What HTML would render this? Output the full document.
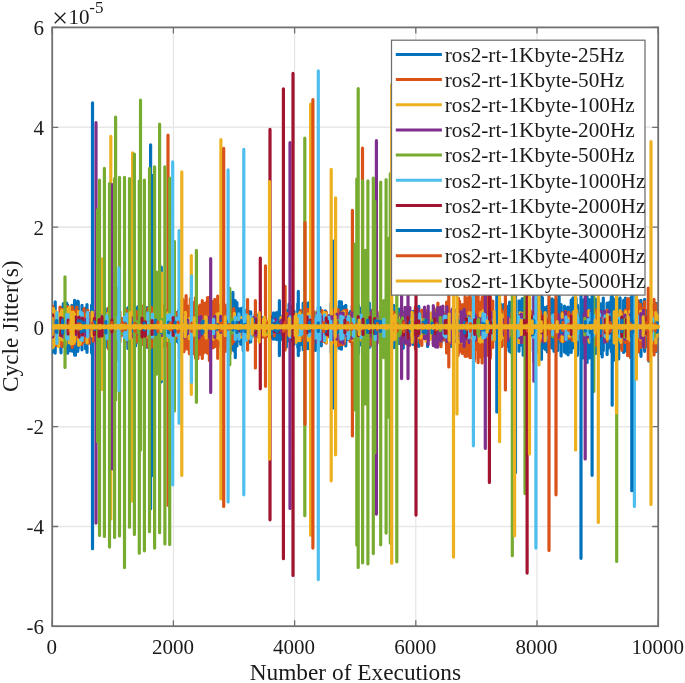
<!DOCTYPE html>
<html><head><meta charset="utf-8"><title>Cycle Jitter</title>
<style>
html,body{margin:0;padding:0;background:#fff}
body{width:685px;height:683px;overflow:hidden;position:relative;font-family:"Liberation Serif",serif}
text{font-family:"Liberation Serif",serif;fill:#1a1a1a}
.tk{font-size:21px}
.lg{font-size:21.25px}
.lb{font-size:23.35px}
</style></head><body>
<svg width="685" height="683" viewBox="0 0 685 683" style="position:absolute;left:0;top:0;will-change:transform">
<rect width="685" height="683" fill="#fff"/>
<path d="M173.4 27.4V626.3M294.6 27.4V626.3M415.8 27.4V626.3M537.0 27.4V626.3" stroke="#e3e3e3" stroke-width="1.1" fill="none"/>
<path d="M52.2 127.3H658.2M52.2 227.1H658.2M52.2 326.9H658.2M52.2 426.7H658.2M52.2 526.5H658.2" stroke="#e8e8e8" stroke-width="1.6" fill="none"/>
<path d="M52.2 626.3v-6.0M52.2 27.4v6.0M173.4 626.3v-6.0M173.4 27.4v6.0M294.6 626.3v-6.0M294.6 27.4v6.0M415.8 626.3v-6.0M415.8 27.4v6.0M537.0 626.3v-6.0M537.0 27.4v6.0M658.2 626.3v-6.0M658.2 27.4v6.0M52.2 27.4h6.0M658.2 27.4h-6.0M52.2 127.3h6.0M658.2 127.3h-6.0M52.2 227.1h6.0M658.2 227.1h-6.0M52.2 326.9h6.0M658.2 326.9h-6.0M52.2 426.7h6.0M658.2 426.7h-6.0M52.2 526.5h6.0M658.2 526.5h-6.0M52.2 626.3h6.0M658.2 626.3h-6.0" stroke="#707070" stroke-width="1.3" fill="none"/>
<rect x="52.2" y="27.4" width="606.0" height="598.8" fill="none" stroke="#707070" stroke-width="1.8"/>
<clipPath id="cp"><rect x="52.2" y="27.4" width="607.5" height="598.8"/></clipPath>
<g clip-path="url(#cp)" fill="none" stroke-width="3.2" stroke-linecap="round">
<path d="M92.5 102.8V548.7M150.6 144.9V508.8M152.1 175.4V475.4M161.3 267.0V381.8M232.9 292.4V350.1M235.3 300.7V357.6M279.4 300.7V355.6M298.3 291.4V355.6M333.4 241.2V407.9M52.7 311.9V341.9M54.2 306.0V343.7M55.2 301.9V353.1M60.8 307.3V349.3M62.2 312.2V345.0M63.3 303.7V346.1M64.2 310.3V341.9M66.5 308.6V352.1M67.7 305.0V353.2M69.1 311.9V347.1M70.1 313.9V350.7M72.3 308.0V351.2M74.6 300.4V355.1M75.5 302.8V355.2M76.8 302.5V347.7M77.8 301.1V351.3M82.0 305.3V349.8M85.6 308.0V348.7M91.5 309.7V343.8M93.8 314.6V339.4M99.6 304.8V350.3M100.5 301.5V353.3M102.1 312.5V338.3M103.3 308.4V342.4M104.3 315.0V352.1M105.3 308.7V347.6M114.3 309.1V343.3M115.6 313.9V336.7M117.6 309.2V336.5M124.7 308.5V342.5M127.9 307.8V348.4M135.6 307.9V345.8M136.8 312.7V339.5M138.1 306.6V341.9M146.1 313.0V338.8M147.3 307.6V347.3M150.7 310.0V345.9M153.8 315.6V339.5M160.4 313.1V345.7M161.5 316.2V345.3M162.6 307.7V346.3M163.6 307.8V342.9M168.9 308.9V342.7M170.2 311.6V339.5M175.0 313.0V341.8M176.7 312.7V341.2M177.5 316.3V334.0M178.6 310.7V343.0M180.7 317.5V335.1M184.0 312.4V343.0M185.7 313.0V340.7M187.5 313.4V344.3M191.7 315.8V340.8M195.5 317.7V334.8M196.4 311.0V344.1M199.0 310.4V346.5M200.6 309.4V343.7M202.6 316.5V338.6M203.5 313.6V340.7M205.4 308.3V343.6M206.4 318.4V333.7M208.1 309.1V347.7M210.3 317.0V336.0M212.0 307.2V343.6M212.9 317.1V335.8M215.1 313.6V337.9M216.3 315.0V337.6M217.7 312.9V339.7M218.5 317.7V345.9M219.7 305.4V338.1M221.4 306.0V342.6M224.1 311.2V348.2M226.6 310.7V339.9M229.6 313.1V339.0M233.7 310.5V342.8M234.8 310.6V352.0M236.9 302.6V345.9M238.5 308.7V340.7M239.3 315.2V335.9M240.7 308.7V344.2M243.2 307.1V350.7M244.3 309.9V336.0M248.7 311.3V342.4M250.7 311.8V342.0M255.1 314.9V336.7M256.7 314.8V337.0M259.1 318.2V331.0M262.1 317.6V337.0M263.4 319.2V335.3M270.3 316.2V338.2M273.5 312.9V339.2M276.5 312.5V339.6M279.1 310.6V339.0M281.0 316.5V339.4M286.3 310.4V347.1M288.0 313.3V340.8M289.1 304.1V339.3M291.1 306.3V341.2M292.9 317.3V335.4M294.0 311.1V344.3M297.8 303.7V347.6M299.1 309.9V350.7M300.7 311.5V344.4M302.0 311.9V342.0M303.2 303.2V349.7M305.6 303.2V345.9M306.5 308.9V348.4M307.8 303.3V348.7M309.2 302.7V342.1M310.6 309.5V341.9M315.3 312.0V350.4M317.0 312.4V338.6M318.3 307.0V350.3M320.0 307.5V342.4M321.3 313.6V345.8M325.4 310.9V342.3M331.2 303.0V352.7M335.7 306.2V351.1M339.3 301.6V348.3M341.4 301.9V349.2M344.5 306.4V338.5M345.8 305.3V346.0M348.2 313.5V339.2M350.4 311.5V340.8M352.3 305.7V345.5M353.5 305.1V348.5M356.2 311.2V347.9M357.4 310.1V344.7M358.5 305.0V353.0M359.9 311.8V341.6M361.3 308.1V344.8M363.9 313.5V343.0M365.0 315.3V343.9M369.3 303.0V347.4M374.6 316.4V336.6M376.0 317.5V338.1M377.0 313.0V342.8M380.7 316.2V339.5M381.8 304.9V351.6M385.0 316.7V337.6M386.3 305.2V352.6M388.7 307.3V342.1M391.8 308.4V343.1M393.6 305.3V347.7M395.5 314.3V346.7M399.2 309.1V343.4M402.5 314.3V336.9M403.3 312.5V348.1M411.3 316.2V338.5M413.1 311.3V344.5M416.2 308.6V338.1M417.5 311.9V340.0M418.8 306.4V346.3M427.6 313.8V346.5M436.1 310.7V346.6M440.9 312.9V343.6M443.1 311.9V340.1M446.4 315.8V344.3M447.6 315.1V339.0M450.1 317.9V341.1M451.3 314.1V346.4M452.2 311.5V343.9M453.1 308.0V344.0M458.9 309.0V347.4M469.0 313.3V337.3M473.6 305.2V343.6M475.4 316.8V345.5M480.2 306.9V343.5M481.2 308.1V345.5M484.7 312.5V339.8M491.6 315.0V340.7M494.0 312.7V340.3M497.8 312.1V341.7M499.4 310.9V349.3M500.3 303.8V338.5M501.3 306.3V346.6M503.5 304.6V344.5M505.9 310.4V350.7M507.7 306.5V346.5M508.7 305.9V339.2M509.6 302.2V351.4M511.2 311.8V352.6M514.1 310.4V346.5M519.0 300.8V351.2M522.1 298.9V345.5M523.2 298.5V355.2M524.6 309.6V343.5M527.3 309.7V344.2M529.7 298.1V351.0M534.0 295.8V361.6M535.3 301.5V348.5M537.1 298.8V341.7M538.4 295.3V352.6M539.8 312.2V344.7M541.5 296.2V359.3M542.3 304.7V346.3M544.6 307.7V342.9M549.9 308.9V343.3M554.0 303.9V351.2M556.2 299.9V350.5M559.1 296.1V341.8M560.8 311.4V342.6M566.2 307.8V353.2M568.7 308.3V341.6M573.1 298.8V340.2M576.1 298.4V350.4M577.4 305.1V355.3M581.2 306.4V349.7M583.2 299.9V358.0M584.1 307.0V355.2M587.1 296.4V362.4M589.5 299.6V358.0M592.3 303.2V354.9M593.7 300.2V342.8M594.8 310.0V341.0M595.6 299.2V353.6M598.6 300.7V349.1M602.2 311.1V357.0M607.7 307.7V348.8M611.3 297.2V351.4M612.2 307.7V342.0M613.5 298.8V360.3M615.5 300.3V352.6M618.7 299.0V358.9M619.6 308.4V347.3M626.7 302.9V350.7M627.8 305.4V352.3M629.2 299.9V355.3M630.1 300.0V354.9M631.6 304.9V352.4M632.5 307.3V356.2M634.0 308.0V349.6M637.1 301.4V348.5M641.0 300.4V356.3M643.2 304.7V346.0M644.6 299.4V351.3M646.0 310.3V346.8M648.9 298.3V361.1M652.3 305.8V343.7M653.3 306.6V349.5M656.1 303.3V351.4M540.0 306.2V352.7M542.4 297.6V348.6M545.5 307.8V349.4M547.3 306.6V351.8M549.2 299.6V347.8M552.1 298.9V348.1M554.1 300.0V351.3M557.6 304.6V350.6M561.1 304.5V355.9M564.5 306.1V352.0M568.1 307.0V354.8M571.2 300.1V352.5M573.0 297.9V347.9M598.0 300.4V349.9M601.4 303.8V353.9M603.3 298.1V350.5M607.1 303.1V354.5M609.6 302.3V347.1M612.6 307.4V354.9M616.0 303.6V356.0M620.1 297.9V347.7M623.6 300.4V352.5M625.4 298.2V351.0M628.6 299.4V349.5M630.5 298.2V349.4M632.4 306.8V356.2M636.0 306.0V348.3M639.9 301.0V352.3M52.0 306.1V352.8M54.7 306.1V345.3M61.0 309.2V352.8M66.7 303.0V345.2M71.9 305.4V348.9M75.2 305.2V351.5M78.3 301.6V348.3M82.0 307.9V348.7M87.0 304.6V352.3M91.6 305.2V353.1" stroke="#0072BD"/>
<path d="M168.0 135.2V505.3M247.6 299.6V350.1M255.4 300.7V367.9M265.5 265.8V386.3M285.1 286.3V350.1M352.4 210.4V435.9M362.5 148.2V440.1M448.8 287.5V366.9M52.7 306.2V342.4M56.3 313.9V345.4M60.0 307.1V344.8M62.1 309.4V346.4M65.3 313.9V340.4M67.2 306.7V338.7M71.0 311.2V342.7M72.2 306.8V347.4M74.5 311.1V343.8M76.8 307.0V338.8M78.6 316.2V335.2M80.0 318.5V335.9M81.7 314.8V344.5M84.0 308.6V342.0M87.8 310.4V341.5M89.1 313.4V343.2M93.3 314.2V341.2M95.0 314.6V338.6M96.2 309.8V342.3M98.3 310.6V346.1M102.9 308.6V345.6M104.0 310.4V346.4M107.0 316.8V338.1M108.6 307.8V349.0M111.3 309.9V345.8M115.8 309.5V342.4M117.7 310.9V340.2M119.9 311.7V341.8M122.2 318.7V335.2M125.2 312.7V341.4M126.2 309.8V335.7M129.3 313.1V347.1M131.4 317.7V344.8M133.0 312.6V342.3M136.8 311.7V341.8M141.1 307.5V341.6M142.5 306.1V344.4M144.1 313.2V343.8M148.0 308.3V346.9M148.9 318.3V339.0M151.5 307.6V347.2M154.3 308.4V344.1M155.5 311.0V340.4M156.4 306.2V350.2M160.3 313.3V339.2M162.2 305.0V337.3M163.1 305.9V345.1M165.1 310.2V346.0M173.8 307.1V340.9M175.1 314.9V338.2M176.1 312.5V338.1M179.5 300.6V356.0M182.8 299.4V342.5M186.1 295.7V347.0M189.4 313.0V353.8M190.3 298.6V345.1M192.5 304.5V350.8M193.6 304.5V353.7M195.5 297.8V358.1M197.9 311.3V358.4M202.3 300.5V358.5M204.9 303.4V352.1M207.5 297.5V353.2M209.4 297.3V360.4M213.6 301.0V347.4M217.7 296.0V358.3M221.7 298.3V356.6M224.7 307.6V347.0M228.7 312.0V353.6M230.0 299.8V353.6M232.1 311.3V343.7M233.8 308.7V341.3M246.3 318.8V340.0M247.4 316.8V334.7M257.5 318.3V336.5M259.4 316.9V337.0M260.8 320.8V331.5M263.3 319.4V336.9M264.2 319.9V331.7M265.6 318.7V336.4M267.4 321.9V336.1M268.7 321.4V332.8M274.2 322.6V335.8M277.1 322.1V332.4M283.5 318.8V337.0M284.5 318.9V333.4M285.8 315.5V332.0M287.1 313.6V334.8M291.9 318.9V336.4M296.4 314.9V337.7M298.5 317.8V336.7M300.9 310.5V340.7M302.3 315.2V337.4M307.8 309.3V334.9M310.8 313.5V338.3M312.5 309.0V343.0M317.9 311.0V338.4M318.7 314.7V340.8M321.0 313.6V340.4M322.1 310.5V340.1M323.1 312.9V341.4M326.3 312.0V343.1M328.2 318.3V336.7M333.0 319.1V335.9M334.4 309.5V343.2M337.0 312.2V340.6M338.1 309.5V345.7M339.8 317.9V344.7M342.0 312.0V344.7M343.3 317.1V338.6M344.1 310.3V344.0M346.7 310.1V336.6M350.0 316.6V341.5M351.4 313.1V337.1M356.2 311.5V344.3M362.5 313.2V344.3M364.4 309.9V342.5M366.3 309.7V344.8M370.9 312.5V345.0M372.2 311.5V339.5M373.2 312.7V343.8M377.0 311.6V343.5M382.1 311.7V338.1M383.5 309.4V344.3M385.5 315.4V338.4M386.5 309.3V344.1M388.9 317.5V335.7M390.3 318.1V340.7M393.0 312.1V337.0M395.1 312.5V339.5M396.4 314.7V338.1M401.1 313.0V343.6M402.6 317.1V335.2M404.6 314.2V340.0M405.6 308.9V343.4M407.3 311.6V344.1M409.5 310.1V345.6M412.8 316.5V338.3M415.4 307.2V348.8M420.3 312.4V342.7M421.8 310.2V345.5M426.4 310.9V340.3M428.9 315.7V339.6M433.3 313.3V343.4M434.1 308.4V344.4M437.9 303.1V345.1M441.0 310.2V346.7M444.1 314.1V339.8M446.6 302.1V352.9M458.5 298.3V353.1M467.0 298.7V346.0M470.1 290.7V357.7M471.6 298.8V356.3M474.2 290.7V361.6M478.1 295.5V362.6M480.7 305.3V354.7M482.1 298.3V363.0M484.0 306.3V343.8M485.2 293.4V356.7M486.1 294.2V351.2M487.8 303.6V345.7M490.3 299.9V358.2M492.8 301.1V347.5M499.0 310.8V349.9M500.5 305.6V343.2M501.9 310.0V346.3M504.0 316.3V335.8M511.9 313.4V335.5M513.7 318.9V335.6M515.4 317.2V334.3M518.3 317.7V334.9M522.7 314.7V342.2M523.9 312.4V338.2M525.2 314.2V337.3M528.4 311.2V340.7M531.1 311.5V335.2M533.4 312.3V338.0M535.9 315.6V339.8M537.5 318.7V334.9M539.0 316.4V338.2M540.5 311.5V341.1M545.2 316.9V333.5M548.2 315.7V339.9M549.6 316.3V335.4M555.2 313.5V338.1M556.5 316.2V338.1M557.7 314.7V338.6M560.8 321.1V340.9M562.3 312.5V339.5M563.3 317.9V341.6M564.3 316.1V340.4M565.7 311.7V337.8M568.9 312.4V338.3M572.1 314.8V340.2M573.0 312.4V336.5M580.8 314.2V338.6M582.6 316.3V335.3M585.6 317.0V338.6M587.3 311.3V335.5M588.9 313.9V340.6M591.5 312.0V340.2M593.2 319.1V335.2M595.2 315.8V336.1M596.2 310.1V345.0M604.8 318.1V334.2M607.2 310.2V341.1M613.5 314.6V336.4M617.2 312.1V339.8M621.8 312.1V350.3M625.3 310.2V342.4M627.7 298.7V355.7M630.5 299.0V357.5M632.6 308.7V347.9M633.6 308.6V350.5M634.6 303.2V345.6M635.4 296.8V354.1M638.4 303.5V351.7M642.7 308.6V345.5M644.3 310.6V346.4M649.9 295.1V358.3M654.0 299.4V355.0M458.0 299.2V355.5M459.5 301.2V351.4M462.3 304.5V353.5M465.1 296.6V356.3M467.0 302.2V356.2M468.8 297.2V352.6M471.5 298.8V357.3M474.6 300.7V359.1M475.9 295.7V349.3M478.2 300.6V356.9M480.1 302.5V357.0M482.3 296.9V354.0M483.7 296.7V351.2M485.9 304.6V351.6M488.4 296.8V355.5M490.5 297.1V355.8M184.0 302.6V351.6M187.1 305.6V349.0M189.3 306.5V349.3M192.4 302.2V347.8M195.5 306.3V353.0M197.4 306.5V348.5M200.0 305.0V354.2M203.5 304.8V352.9M206.5 302.3V348.5M210.1 298.8V346.3M212.3 304.5V348.0M214.8 299.3V346.4M218.1 304.6V346.3M221.5 304.9V348.1M223.3 304.1V347.3M225.2 305.1V351.4M630.0 304.7V350.9M633.7 300.9V349.3M637.7 300.3V351.3M640.6 304.4V347.4M644.5 301.9V347.1M648.5 299.4V346.5M652.0 305.3V351.0M655.8 304.2V350.7" stroke="#D95319"/>
<path d="M101.9 258.8V389.4M110.8 136.4V519.0M132.6 152.8V501.2M161.8 273.2V379.1M191.3 255.5V394.5M220.9 139.7V498.9M310.6 104.2V535.2M331.2 169.3V480.8M335.6 197.9V454.8M52.7 308.8V347.8M53.6 308.6V346.3M56.0 311.6V343.3M58.6 314.9V346.7M59.8 313.9V337.3M61.6 310.4V339.2M62.8 310.2V340.3M65.6 310.8V344.5M66.8 309.1V337.1M69.3 307.2V342.7M70.6 317.5V334.0M74.6 314.2V341.7M78.7 311.6V345.3M80.2 314.0V343.8M87.0 314.1V343.0M92.2 312.1V335.8M98.7 310.0V341.4M101.5 312.9V338.2M107.9 313.3V337.7M110.4 310.7V340.1M116.9 320.0V333.6M124.8 319.6V336.2M129.6 314.5V335.8M132.1 313.4V338.5M140.7 319.7V333.8M144.4 316.0V333.0M146.6 315.0V336.7M151.3 316.9V337.0M154.7 311.1V333.6M160.6 312.8V339.7M162.9 312.7V341.4M167.7 313.1V340.4M172.0 314.8V337.9M174.1 315.4V336.8M176.4 320.9V332.5M180.1 318.5V334.3M185.4 312.3V336.7M189.3 318.6V338.6M191.6 316.2V337.3M200.3 317.9V334.7M205.4 316.8V335.0M213.1 318.8V339.2M217.0 314.0V337.5M218.6 313.6V338.4M220.2 314.5V340.1M222.4 317.0V332.8M224.6 315.7V335.5M234.4 313.3V332.8M239.7 320.3V334.1M240.8 317.3V337.2M244.4 316.1V335.5M246.2 315.1V340.0M260.1 320.4V334.7M261.4 319.4V335.2M263.8 321.4V330.9M265.1 320.0V335.1M267.5 322.3V334.2M268.9 319.6V331.4M272.1 321.4V331.7M281.0 317.6V331.4M283.5 321.9V332.8M294.4 318.7V334.6M296.1 314.1V342.3M297.7 318.9V340.5M299.6 312.9V340.6M308.1 313.8V340.3M316.3 312.3V337.2M324.0 312.4V338.2M325.2 320.8V333.6M326.4 313.7V342.3M331.5 311.6V344.0M336.4 315.1V336.4M337.2 316.8V336.8M338.5 318.2V336.4M341.7 316.4V338.5M344.0 311.6V341.4M345.9 317.2V336.4M348.5 316.3V332.9M353.0 314.6V340.1M361.0 315.9V340.1M363.5 315.8V335.1M364.3 311.7V336.3M366.7 317.9V334.7M372.8 319.8V334.3M376.4 311.4V332.7M383.8 314.1V340.2M389.4 313.2V337.8M393.4 316.5V339.8M395.1 317.0V337.6M398.5 317.5V335.2M401.9 314.6V337.2M408.6 313.6V341.4M416.4 315.8V341.5M417.7 317.1V337.9M421.1 319.1V337.9M426.0 314.9V341.3M427.3 315.9V337.0M429.6 320.3V336.0M430.6 312.9V339.1M437.6 313.5V339.6M443.8 315.8V337.1M448.9 315.4V340.2M451.2 313.9V342.4M456.4 313.2V342.0M458.8 314.6V342.2M459.7 314.9V338.7M462.4 311.4V342.2M469.2 312.5V342.2M472.8 312.3V338.6M479.5 318.9V341.2M480.5 312.7V342.1M483.1 310.5V341.7M484.5 314.3V333.1M486.4 316.2V336.8M490.0 315.1V340.4M496.4 316.7V337.0M498.8 314.5V340.8M500.4 313.9V339.9M503.0 316.0V337.1M505.0 311.9V344.6M507.8 319.3V338.7M508.8 319.0V336.1M512.5 314.3V340.8M514.5 311.5V335.6M516.1 318.7V341.6M518.7 316.7V342.6M520.1 312.6V334.1M522.1 313.6V337.6M523.5 315.9V339.2M537.9 319.7V338.3M539.5 318.6V339.1M542.3 318.3V337.0M562.3 313.9V341.2M565.5 318.5V339.4M569.4 318.6V336.5M576.7 310.5V334.0M589.3 310.3V342.1M592.2 311.9V336.3M594.2 313.4V335.2M600.4 314.3V334.1M601.6 317.9V335.2M606.1 317.4V337.7M614.1 317.6V335.2M615.3 313.5V338.1M618.8 315.1V336.9M620.0 310.7V339.8M620.9 313.9V342.3M625.7 311.6V338.8M628.3 315.9V338.1M630.0 311.4V340.5M633.9 319.2V340.9M640.6 311.1V339.5M641.4 314.6V337.6M646.8 317.5V334.8M648.5 309.7V344.0M651.5 311.3V343.3M655.8 312.5V342.9M657.0 315.1V336.3" stroke="#EDB120"/>
<path d="M96.0 122.7V523.1M112.0 184.7V468.8M210.7 258.6V392.5M290.0 142.7V508.5M376.4 140.7V514.1M401.6 275.8V378.6M408.0 275.8V378.6M485.3 206.0V448.4M533.9 273.2V381.2M585.2 195.5V458.9M52.7 322.4V335.0M60.6 318.3V335.2M63.1 318.4V337.0M66.1 322.2V336.2M67.8 321.3V331.5M70.7 318.6V336.1M76.2 317.1V334.6M80.2 320.2V334.9M85.7 319.1V335.6M88.1 319.2V333.8M94.5 320.1V334.1M97.0 316.9V332.2M98.0 320.9V333.4M100.1 316.4V335.7M102.4 316.0V335.1M103.9 321.0V331.7M113.4 316.8V335.0M116.6 318.5V334.2M124.1 321.8V333.0M126.2 317.8V334.2M130.4 318.6V334.1M131.4 317.5V337.2M138.9 317.1V334.8M148.8 321.1V335.6M149.8 317.1V337.7M151.6 319.1V337.7M157.3 319.3V337.6M161.6 321.0V335.5M167.2 321.2V335.1M168.5 320.9V332.1M170.7 316.0V339.8M172.2 319.0V334.2M174.5 320.1V333.0M177.1 317.7V334.4M182.1 318.2V336.0M183.9 316.2V338.0M185.6 322.2V336.9M187.7 320.2V333.6M192.7 319.1V333.8M196.6 317.8V336.2M198.9 317.2V337.8M201.0 316.5V335.2M205.1 321.2V332.1M208.0 317.6V336.3M209.8 316.9V337.5M214.8 316.3V337.3M220.7 316.4V332.3M225.2 320.1V331.7M231.2 320.6V333.6M243.0 319.5V335.3M245.0 317.8V333.9M247.6 316.8V331.4M248.7 317.8V336.1M250.3 320.6V336.9M253.4 317.6V330.9M255.8 318.8V335.3M258.2 319.4V332.1M275.3 319.0V331.8M276.3 322.9V332.6M280.8 320.9V332.0M282.3 319.7V334.6M283.7 319.3V335.1M288.7 316.5V336.1M289.7 322.7V337.0M293.5 319.0V333.1M308.5 320.9V333.9M314.2 319.9V334.7M317.0 313.1V342.5M318.2 315.4V336.9M319.0 314.3V340.9M321.6 316.7V340.2M322.8 318.3V333.4M328.9 315.7V333.4M332.0 316.7V339.4M334.8 317.8V336.2M337.0 314.1V339.2M340.5 313.0V342.0M341.4 315.6V340.4M343.1 313.0V343.1M346.6 316.9V336.2M352.1 312.9V338.2M364.1 319.1V336.1M365.6 309.7V341.4M367.3 319.5V335.8M371.8 310.4V336.7M373.0 309.7V346.5M376.2 313.0V341.7M381.8 318.3V334.9M382.7 318.9V343.9M385.3 311.2V339.7M397.3 313.7V336.4M403.8 316.9V337.9M405.1 307.3V342.7M406.3 310.7V342.2M409.9 307.6V344.3M418.0 309.1V335.7M424.5 307.2V338.6M427.1 313.9V338.7M428.2 306.1V344.4M433.3 305.7V345.6M435.7 313.9V347.0M437.7 307.6V347.1M440.7 307.1V340.9M442.9 306.1V338.5M446.9 306.9V341.3M451.2 317.0V338.5M452.0 309.7V343.4M456.3 310.0V341.8M457.2 315.8V338.5M461.1 311.5V341.6M463.0 318.4V333.8M464.1 309.3V346.3M465.5 315.5V339.2M468.1 318.3V336.6M469.0 316.7V342.6M473.1 320.3V336.1M474.4 313.9V337.7M475.5 315.8V340.1M477.1 320.5V334.6M479.2 318.7V334.4M482.3 317.6V335.5M487.4 318.2V334.9M491.3 312.5V333.6M497.5 320.4V333.1M502.0 319.1V333.5M504.6 319.7V335.4M507.8 317.8V340.2M514.7 312.6V334.4M517.8 318.4V333.5M519.5 315.6V337.7M521.4 314.0V342.4M524.2 320.8V339.5M525.1 313.4V340.2M528.7 318.7V340.6M533.5 316.4V335.9M537.0 319.5V333.9M538.3 313.4V339.0M540.6 320.8V332.8M543.6 315.4V341.9M545.1 318.1V334.4M555.7 316.1V336.9M556.5 318.5V335.5M558.2 314.8V337.4M559.4 318.7V334.8M562.8 319.8V334.1M565.4 312.0V339.9M575.7 310.9V345.6M576.8 316.4V337.2M583.7 313.7V342.5M587.7 318.0V337.2M591.2 310.2V340.3M598.8 316.7V335.7M601.0 311.4V335.4M604.7 311.2V342.2M608.9 311.2V337.3M614.3 313.0V340.0M624.9 315.1V339.4M630.1 315.2V335.9M631.3 312.9V336.2M640.7 313.6V338.1M643.4 310.3V346.7M648.6 310.6V342.9" stroke="#7E2F8E"/>
<path d="M97.6 209.7V441.7M99.5 180.2V535.4M104.4 168.4V536.4M109.5 183.5V547.1M114.6 178.7V537.5M115.6 117.0V400.1M117.4 288.7V359.7M119.5 177.4V536.0M124.5 177.4V567.6M129.5 178.7V527.2M134.4 154.1V534.4M139.3 181.1V553.2M140.5 100.2V450.1M144.4 180.1V550.8M149.5 168.4V531.7M154.6 166.8V548.1M156.6 272.2V374.1M159.6 124.2V532.7M164.9 166.8V544.0M169.7 178.1V544.6M174.4 241.4V410.9M65.0 276.9V367.5M196.4 250.4V402.3M229.8 288.3V364.8M304.8 138.2V515.7M355.1 244.2V409.9M356.8 178.9V545.1M358.2 88.7V567.5M362.6 180.9V562.8M365.3 250.4V403.8M367.9 180.9V563.9M373.3 178.1V553.6M374.8 201.2V453.0M380.7 182.1V544.8M383.8 300.7V357.6M386.1 179.7V533.1M388.9 238.1V417.1M390.3 173.7V543.1M396.8 92.6V561.8M512.3 98.7V555.7M525.0 160.8V493.6M593.8 262.9V391.5M616.7 93.0V561.4M52.7 320.8V333.8M59.4 320.4V331.7M65.1 322.8V330.1M73.6 322.9V330.8M102.4 323.5V333.9M104.2 321.3V332.2M107.0 323.6V330.2M115.4 320.1V333.5M117.6 321.0V333.1M121.5 322.6V333.6M122.9 322.8V333.2M133.8 323.4V333.1M135.6 320.8V330.3M138.1 321.5V332.6M139.1 322.6V331.4M147.5 319.4V334.8M150.2 322.4V333.7M159.1 319.7V334.7M160.3 323.3V330.0M162.2 319.3V332.9M167.5 321.6V333.7M177.9 323.4V329.7M185.8 321.7V332.7M196.1 320.9V334.8M203.1 320.8V331.4M229.4 322.6V333.0M232.5 319.2V332.9M236.5 318.2V336.5M238.2 323.0V331.3M250.5 322.2V331.0M252.2 318.5V336.1M267.3 323.1V332.0M270.3 322.8V330.1M291.5 319.8V333.0M296.4 322.6V330.2M305.9 322.0V333.0M319.5 323.6V334.8M335.1 321.0V335.2M337.9 320.7V331.7M340.3 320.5V334.3M350.2 318.0V335.1M359.3 318.4V332.2M363.2 322.2V332.2M366.8 318.2V337.2M376.3 319.1V330.6M382.2 320.8V335.2M396.1 320.7V332.4M397.1 321.4V332.9M399.3 320.3V335.4M402.5 317.8V333.7M411.8 317.8V336.1M424.0 319.7V333.5M431.8 320.4V333.2M440.3 317.5V330.7M444.7 320.0V331.3M456.5 320.3V332.4M467.7 317.5V335.6M476.5 321.3V332.9M478.6 319.4V335.9M544.6 317.5V332.4M550.5 317.1V333.7M552.8 319.0V336.7M573.5 316.6V337.6M584.8 318.3V335.0M590.2 321.9V332.3M599.9 320.5V333.5M615.8 318.3V336.1M624.6 320.2V336.8M625.7 319.1V335.6M633.8 318.9V335.7M637.2 320.4V332.9M644.2 321.0V331.7M647.4 320.8V334.2M652.5 318.8V332.9M654.3 321.9V336.2" stroke="#77AC30"/>
<path d="M118.9 268.1V390.4M172.7 161.9V484.8M179.1 230.5V423.2M191.5 276.0V382.2M228.1 169.9V502.0M243.8 149.4V494.8M318.3 70.9V579.6M473.4 208.6V445.8M535.9 106.3V548.1M634.4 147.9V506.5M52.7 315.9V337.0M56.9 312.5V343.3M66.8 314.3V339.0M70.0 314.0V340.1M71.9 312.6V340.5M80.5 312.0V339.5M82.2 313.0V340.5M87.7 312.3V337.0M106.9 315.6V338.6M118.3 316.6V339.0M124.5 317.0V337.5M125.5 320.0V332.6M126.7 313.8V339.7M147.8 312.8V333.8M152.5 314.0V337.2M167.6 315.3V336.0M169.3 314.5V337.2M171.5 314.8V341.4M176.3 318.2V335.2M213.6 319.3V333.7M223.7 316.4V336.9M235.3 317.1V339.4M238.9 313.9V339.2M245.4 319.6V335.8M246.3 315.0V340.2M250.8 316.6V339.1M273.1 320.8V332.1M290.1 316.9V336.9M299.0 315.4V334.7M301.0 317.0V334.9M302.4 315.2V333.7M309.1 316.3V336.1M310.5 320.4V334.4M315.3 318.9V338.2M316.9 315.4V334.4M319.9 314.2V339.6M324.6 314.9V340.7M328.9 317.1V333.4M330.8 321.0V339.8M340.9 316.0V339.2M342.0 320.6V339.0M343.0 317.2V338.2M346.7 319.5V333.6M348.4 316.9V338.6M353.6 318.9V336.2M361.0 315.1V337.6M375.2 320.4V339.4M383.9 319.1V336.4M407.4 319.8V337.9M411.7 320.0V332.8M415.7 315.2V340.5M419.7 313.8V333.6M444.1 316.6V335.6M445.8 316.0V337.1M454.6 314.0V337.6M469.1 318.0V337.6M471.9 320.9V331.8M474.3 320.2V338.9M483.0 313.7V337.9M483.9 317.5V336.4M484.7 314.3V337.3M485.6 319.6V335.5M488.6 316.8V335.3M493.0 320.8V338.9M494.6 318.7V335.5M516.6 313.7V337.5M518.6 316.6V335.6M521.5 319.8V333.7M533.5 316.9V337.2M537.9 321.7V331.2M548.5 314.8V338.7M552.7 315.1V334.4M566.0 316.9V339.4M568.2 320.6V333.4M572.8 316.8V335.2M576.1 314.2V337.5M577.2 314.6V339.7M578.4 318.2V333.2M588.0 319.7V334.5M589.4 321.9V330.9M590.9 313.7V340.9M593.4 315.6V335.8M599.6 314.2V333.2M605.1 315.8V336.6M608.3 314.8V338.7M610.0 315.6V337.2M611.1 314.9V336.3M618.0 318.1V336.4M621.0 317.4V337.2M635.7 319.8V339.1M637.3 315.7V337.1M652.5 318.3V339.4" stroke="#4DBEEE"/>
<path d="M260.3 258.2V388.8M270.0 129.4V519.8M283.4 88.8V558.7M293.0 73.4V575.5M416.0 139.3V515.1M489.4 171.9V482.5M527.1 81.3V573.1M52.7 314.9V336.8M61.0 317.8V335.3M68.2 320.0V334.0M75.3 317.1V333.1M79.1 317.0V337.1M82.4 318.2V335.0M94.3 318.6V334.8M99.1 319.5V336.5M102.0 317.0V335.9M111.9 320.2V331.9M142.1 318.1V337.0M145.3 321.8V336.2M152.1 320.6V334.4M173.2 317.5V335.3M206.9 321.9V332.6M224.9 318.2V334.1M239.1 322.5V330.9M248.0 323.5V329.1M253.0 321.4V333.9M255.7 320.1V332.5M273.9 323.4V331.7M278.2 322.5V332.4M285.4 322.5V330.8M307.1 316.9V332.6M310.4 320.1V330.8M326.2 317.9V334.2M327.5 321.1V335.0M344.9 320.0V332.8M358.3 316.7V335.5M359.1 322.1V331.5M363.0 319.2V334.5M369.9 317.3V332.5M374.7 318.6V333.4M403.5 321.8V335.3M407.8 317.3V338.3M412.7 321.4V335.4M418.8 320.9V333.8M423.8 322.7V332.7M434.9 319.1V333.3M445.1 320.6V333.3M447.6 320.2V333.3M457.0 320.2V335.6M466.4 318.6V336.3M474.7 319.8V334.3M491.1 321.8V333.0M524.1 320.4V334.3M531.5 316.7V334.4M542.8 316.8V332.7M547.3 319.9V334.2M549.3 320.2V333.3M571.3 316.1V334.5M575.1 317.0V334.7M599.2 318.0V336.4M605.6 319.0V332.8M609.4 316.8V333.2M614.7 320.6V333.0M621.8 317.2V336.4M626.5 319.6V336.3M632.0 321.1V332.5M646.8 317.3V334.0M648.4 317.8V336.1M651.5 322.9V331.4" stroke="#A2142F"/>
<path d="M496.8 242.4V412.0M497.8 242.4V412.0M515.5 181.8V472.6M581.0 96.1V558.3M592.1 179.1V475.3M612.2 249.2V405.2M631.8 163.7V490.7M52.7 321.3V329.9M56.6 320.7V332.5M62.6 320.2V333.2M69.8 323.1V329.7M72.4 323.3V331.7M78.4 320.6V329.1M81.2 320.8V332.0M84.2 322.7V331.1M94.4 321.9V329.5M105.8 321.6V332.9M125.0 323.0V329.7M131.8 322.7V331.5M144.2 323.1V329.7M155.7 320.0V334.4M161.3 322.3V332.4M168.6 322.1V332.8M175.2 322.2V331.8M183.4 321.5V330.6M202.2 322.4V333.2M203.1 321.3V331.2M207.1 321.0V330.4M217.5 324.5V329.3M222.0 321.2V330.8M226.1 320.7V329.9M227.6 324.4V328.7M232.9 322.2V329.9M236.9 322.3V332.4M241.2 320.6V331.3M244.9 324.3V331.5M247.8 320.8V332.8M253.5 320.4V330.6M259.2 322.1V331.7M271.1 320.3V334.0M272.1 323.7V329.3M275.2 323.9V330.3M277.3 322.2V332.2M278.5 323.9V329.9M297.3 324.1V332.5M309.5 321.9V331.2M318.3 322.9V331.4M325.2 323.7V331.8M337.5 322.2V332.6M358.3 320.2V330.7M367.7 320.0V332.3M375.8 320.5V333.5M378.6 321.0V329.7M380.4 321.3V331.5M410.2 322.2V331.2M423.1 322.3V332.0M425.8 320.1V332.8M432.2 323.0V332.7M458.1 320.4V330.7M464.7 322.4V332.9M482.3 323.4V330.1M485.2 323.8V330.1M488.3 322.6V330.5M493.6 322.1V332.4M498.7 320.1V331.9M500.4 321.5V331.5M532.8 320.0V334.7M533.8 320.7V332.5M549.7 321.7V331.1M561.5 320.8V332.3M585.3 321.6V331.0M590.3 322.6V332.6M600.4 320.2V333.3M614.0 323.8V332.2M617.4 320.4V333.2M621.9 320.0V331.5M631.7 320.1V333.3M632.6 322.2V332.2M647.0 323.0V330.3M657.2 322.6V332.2" stroke="#0072BD"/>
<path d="M223.7 148.4V506.5M305.0 222.7V424.3M312.9 99.6V548.1M505.4 264.4V390.0M549.0 103.9V550.5M556.0 159.6V494.8M648.3 288.2V360.1M52.7 325.5V328.0M69.8 322.2V331.1M78.4 323.9V329.3M79.8 323.9V329.0M92.5 323.2V328.7M111.7 322.7V328.3M122.3 322.3V331.0M125.7 323.9V329.4M135.1 323.4V331.3M157.9 322.1V331.6M170.4 323.1V330.0M178.1 322.2V332.3M179.4 325.4V330.6M182.7 324.4V330.7M191.9 323.2V331.4M219.9 323.4V330.8M222.5 322.7V330.4M229.4 324.7V329.0M253.9 324.0V329.2M265.5 324.9V331.0M267.7 322.6V329.1M283.5 325.7V331.2M285.2 322.7V330.5M323.7 322.5V331.5M334.9 323.3V330.4M337.0 322.4V329.2M347.8 322.7V330.0M351.6 323.6V329.3M356.3 324.7V328.5M357.9 325.1V329.3M377.4 323.6V329.5M392.1 322.7V330.2M394.2 324.2V329.4M397.1 324.2V331.1M403.8 322.3V331.5M422.5 324.3V328.6M436.5 323.7V329.7M453.7 323.9V328.7M466.7 323.0V329.5M470.5 323.6V331.3M494.8 322.2V328.8M504.8 323.8V330.5M521.0 322.5V329.1M527.5 324.5V331.0M529.1 324.4V329.3M549.8 323.1V329.6M557.2 323.7V329.7M562.9 322.3V330.4M568.7 324.1V330.3M576.9 325.2V328.7M597.5 322.7V329.9M605.2 325.2V330.6M610.3 322.6V331.2M620.6 325.3V328.6M630.3 323.7V329.3M646.3 322.9V329.6M655.2 323.8V330.6" stroke="#D95319"/>
<path d="M181.8 171.9V475.5M269.5 181.6V459.1M391.7 84.4V563.2M453.5 97.3V557.1M457.0 240.4V414.0M499.6 212.7V441.7M514.6 118.6V535.8M529.5 200.5V453.9M539.0 289.6V364.8M575.6 204.5V449.9M598.3 131.9V522.5M616.5 241.4V413.0M636.4 275.2V379.2M651.0 141.7V504.4" stroke="#EDB120"/>
<path d="M52.2 318.2V334.8M53.2 326.0V327.5M54.2 325.9V327.8M55.2 325.6V328.1M56.2 325.6V327.8M57.2 325.8V327.9M58.2 326.1V327.6M59.2 325.3V328.0M60.2 326.4V327.3M61.2 325.7V328.0M62.2 325.8V327.9M63.2 325.7V327.9M64.2 325.6V328.0M65.2 326.0V327.6M66.2 325.8V327.7M67.2 326.0V327.6M68.2 326.4V327.1M69.2 326.0V327.6M70.2 326.1V327.5M71.2 312.2V344.0M72.2 325.9V327.6M73.2 312.0V343.6M74.2 326.2V327.5M75.2 325.9V327.6M76.2 325.5V328.2M77.2 326.4V327.3M78.2 325.6V327.9M79.2 326.4V327.2M80.2 325.5V328.2M81.2 325.4V328.4M82.2 326.4V327.2M83.2 326.2V327.5M84.2 326.4V327.2M85.2 325.8V327.7M86.2 325.5V327.9M87.2 326.1V327.6M88.2 326.1V327.5M89.2 326.0V327.6M90.2 326.1V327.4M91.2 325.8V327.6M92.2 325.8V328.0M93.2 326.2V327.4M94.2 325.6V327.9M95.2 326.0V327.8M96.2 326.3V327.3M97.2 326.1V327.5M98.2 326.0V327.6M99.2 325.6V328.2M100.2 325.4V328.1M101.2 325.9V327.8M102.2 326.2V327.3M103.2 326.1V327.6M104.2 325.9V327.6M105.2 326.1V327.6M106.2 326.5V327.1M107.2 326.4V327.1M108.2 325.5V328.1M109.2 326.2V327.3M110.2 326.1V327.6M111.2 325.7V328.1M112.2 326.4V327.2M113.2 326.2V327.4M114.2 325.8V327.8M115.2 325.3V328.4M116.2 326.4V327.2M117.2 325.5V327.9M118.2 326.1V327.6M119.2 326.4V327.2M120.2 325.3V328.4M121.2 326.2V327.4M122.2 325.3V328.0M123.2 326.1V327.4M124.2 325.4V328.1M125.2 325.7V327.9M126.2 326.3V327.4M127.2 326.3V327.3M128.2 325.9V327.7M129.2 325.4V328.2M130.2 312.7V338.2M131.2 326.3V327.3M132.2 326.3V327.2M133.2 325.7V327.8M134.2 325.5V328.0M135.2 325.7V327.8M136.2 326.3V327.3M137.2 326.0V327.6M138.2 326.0V327.7M139.2 326.1V327.6M140.2 325.4V328.4M141.2 325.6V328.1M142.2 326.2V327.3M143.2 326.1V327.5M144.2 326.4V327.3M145.2 325.5V328.2M146.2 326.3V327.3M147.2 326.1V327.5M148.2 325.5V328.1M149.2 326.1V327.5M150.2 325.6V328.2M151.2 325.7V327.9M152.2 325.6V328.0M153.2 326.2V327.5M154.2 326.1V327.4M155.2 325.3V328.0M156.2 325.9V327.8M157.2 326.0V327.6M158.2 325.4V328.0M159.2 325.7V328.0M160.2 325.7V328.1M161.2 321.7V331.4M162.2 326.3V327.3M163.2 326.3V327.3M164.2 325.6V327.9M165.2 326.2V327.6M166.2 325.7V327.8M167.2 325.9V327.8M168.2 325.4V328.3M169.2 325.8V327.9M170.2 325.3V328.0M171.2 325.6V328.0M172.2 326.3V327.2M173.2 325.5V328.0M174.2 325.7V327.7M175.2 326.4V327.2M176.2 326.2V327.4M177.2 325.4V328.4M178.2 326.0V327.6M179.2 326.1V327.7M180.2 325.6V328.1M181.2 326.4V327.2M182.2 326.0V327.8M183.2 325.3V328.1M184.2 326.5V327.1M185.2 316.0V336.7M186.2 325.8V327.8M187.2 325.6V328.1M188.2 325.9V327.7M189.2 326.5V327.1M190.2 326.3V327.4M191.2 325.5V328.3M192.2 326.3V327.3M193.2 325.3V328.1M194.2 317.9V335.2M195.2 326.4V327.3M196.2 325.4V328.1M197.2 326.3V327.4M198.2 325.5V327.9M199.2 325.6V328.2M200.2 326.4V327.2M201.2 325.9V327.9M202.2 326.5V327.2M203.2 325.8V327.7M204.2 325.4V328.5M205.2 326.2V327.5M206.2 317.2V338.1M207.2 326.1V327.6M208.2 325.6V328.0M209.2 325.4V328.0M210.2 326.1V327.4M211.2 325.3V328.5M212.2 325.5V328.3M213.2 325.9V327.7M214.2 325.3V328.4M215.2 325.5V328.1M216.2 325.5V328.0M217.2 326.5V327.1M218.2 326.3V327.4M219.2 326.3V327.3M220.2 326.0V327.5M221.2 325.6V327.8M222.2 325.5V328.3M223.2 326.3V327.2M224.2 325.8V327.8M225.2 317.1V335.5M226.2 325.3V328.1M227.2 325.7V327.8M228.2 326.0V327.8M229.2 326.1V327.5M230.2 326.0V327.6M231.2 325.5V327.9M232.2 325.7V327.8M233.2 326.4V327.3M234.2 326.1V327.4M235.2 325.6V328.0M236.2 325.7V328.0M237.2 326.3V327.3M238.2 325.4V328.4M239.2 326.1V327.4M240.2 325.6V327.9M241.2 325.3V328.2M242.2 326.0V327.7M243.2 326.3V327.3M244.2 326.4V327.1M245.2 325.6V328.1M246.2 325.7V327.7M247.2 326.5V327.1M248.2 316.0V338.2M249.2 325.5V328.1M250.2 326.1V327.6M251.2 326.2V327.5M252.2 319.1V334.0M253.2 325.9V327.5M254.2 325.8V328.0M255.2 325.6V328.0M256.2 326.0V327.6M257.2 325.4V328.4M258.2 325.7V327.8M259.2 312.7V341.9M260.2 326.1V327.4M261.2 325.9V327.6M262.2 326.1V327.4M263.2 325.4V328.4M264.2 317.2V334.9M265.2 325.5V328.2M266.2 326.4V327.2M267.2 325.5V328.3M268.2 326.2V327.5M269.2 326.1V327.4M270.2 326.0V327.7M271.2 325.8V328.0M272.2 325.4V328.5M273.2 325.6V327.9M274.2 326.1V327.6M275.2 326.0V327.5M276.2 325.9V327.8M277.2 325.6V327.9M278.2 325.6V328.1M279.2 326.1V327.6M280.2 325.8V327.8M281.2 326.4V327.1M282.2 326.4V327.2M283.2 325.6V328.0M284.2 325.6V328.1M285.2 326.2V327.4M286.2 326.2V327.3M287.2 325.7V328.0M288.2 326.2V327.4M289.2 318.5V335.3M290.2 325.4V328.2M291.2 325.8V327.9M292.2 326.5V327.2M293.2 326.3V327.2M294.2 325.7V327.7M295.2 316.4V335.2M296.2 326.0V327.5M297.2 318.9V333.9M298.2 326.0V327.6M299.2 326.5V327.2M300.2 325.9V327.5M301.2 325.4V328.2M302.2 325.5V328.3M303.2 325.9V327.7M304.2 326.1V327.5M305.2 325.7V327.9M306.2 326.4V327.1M307.2 325.5V328.4M308.2 325.6V327.9M309.2 326.3V327.4M310.2 325.5V328.0M311.2 326.2V327.4M312.2 326.2V327.4M313.2 325.5V327.9M314.2 326.2V327.5M315.2 325.9V327.9M316.2 326.2V327.4M317.2 326.2V327.3M318.2 326.1V327.6M319.2 326.4V327.2M320.2 325.9V327.6M321.2 325.8V327.8M322.2 325.6V327.9M323.2 325.9V327.7M324.2 326.0V327.6M325.2 325.5V328.4M326.2 325.9V327.8M327.2 325.3V328.5M328.2 326.2V327.4M329.2 326.2V327.4M330.2 325.6V327.9M331.2 325.7V328.1M332.2 325.3V328.5M333.2 325.7V327.9M334.2 326.0V327.6M335.2 316.6V337.1M336.2 326.4V327.2M337.2 326.3V327.3M338.2 325.9V327.7M339.2 326.3V327.2M340.2 325.3V328.1M341.2 326.1V327.5M342.2 325.5V327.8M343.2 326.3V327.3M344.2 326.0V327.7M345.2 325.8V328.0M346.2 325.8V327.9M347.2 326.5V327.2M348.2 325.8V327.6M349.2 326.1V327.6M350.2 325.4V328.1M351.2 325.4V328.0M352.2 325.9V327.9M353.2 326.2V327.4M354.2 326.0V327.7M355.2 325.5V327.9M356.2 326.1V327.6M357.2 325.4V328.2M358.2 326.3V327.3M359.2 320.0V334.6M360.2 325.5V327.9M361.2 325.9V327.5M362.2 325.4V328.3M363.2 325.8V328.0M364.2 325.8V327.6M365.2 326.3V327.2M366.2 325.9V327.7M367.2 325.9V327.5M368.2 325.9V327.7M369.2 325.4V328.5M370.2 326.4V327.2M371.2 326.2V327.5M372.2 326.3V327.3M373.2 325.4V328.1M374.2 326.0V327.7M375.2 326.3V327.3M376.2 326.5V327.1M377.2 325.6V328.0M378.2 326.2V327.5M379.2 326.4V327.1M380.2 326.0V327.7M381.2 325.6V327.7M382.2 325.9V327.6M383.2 326.0V327.6M384.2 325.7V327.8M385.2 326.4V327.1M386.2 325.3V328.5M387.2 326.4V327.3M388.2 325.9V327.8M389.2 326.4V327.2M390.2 325.8V327.9M391.2 326.5V327.1M392.2 326.2V327.4M393.2 326.4V327.3M394.2 325.8V327.8M395.2 315.1V339.0M396.2 325.9V327.6M397.2 325.7V327.7M398.2 326.2V327.5M399.2 326.1V327.7M400.2 326.2V327.4M401.2 326.1V327.5M402.2 325.3V328.4M403.2 325.8V327.7M404.2 325.6V327.7M405.2 326.1V327.5M406.2 325.9V327.7M407.2 326.2V327.4M408.2 326.2V327.4M409.2 326.1V327.5M410.2 325.4V328.4M411.2 326.4V327.2M412.2 312.4V342.3M413.2 326.0V327.7M414.2 326.1V327.6M415.2 325.8V327.6M416.2 326.2V327.3M417.2 325.8V328.0M418.2 325.4V328.2M419.2 326.2V327.4M420.2 325.9V327.5M421.2 326.3V327.4M422.2 325.9V327.8M423.2 326.4V327.1M424.2 325.8V327.9M425.2 326.5V327.1M426.2 325.8V327.6M427.2 325.4V328.2M428.2 325.7V328.1M429.2 325.7V328.0M430.2 325.9V327.8M431.2 326.3V327.3M432.2 326.5V327.1M433.2 325.4V328.3M434.2 326.4V327.2M435.2 326.1V327.4M436.2 326.4V327.2M437.2 325.4V328.3M438.2 325.5V328.2M439.2 325.9V327.5M440.2 326.3V327.4M441.2 325.4V328.2M442.2 325.7V328.0M443.2 326.2V327.4M444.2 326.2V327.3M445.2 325.7V327.7M446.2 325.3V328.1M447.2 326.1V327.4M448.2 325.5V328.3M449.2 314.1V340.2M450.2 325.7V327.9M451.2 325.7V327.8M452.2 325.5V328.2M453.2 325.6V327.9M454.2 325.8V327.6M455.2 326.5V327.2M456.2 325.7V327.7M457.2 326.2V327.5M458.2 325.8V327.9M459.2 325.5V328.1M460.2 325.5V328.0M461.2 326.1V327.4M462.2 325.7V327.9M463.2 325.4V327.9M464.2 325.7V327.9M465.2 326.2V327.3M466.2 326.1V327.6M467.2 325.3V328.1M468.2 326.4V327.2M469.2 325.9V327.9M470.2 326.1V327.5M471.2 326.4V327.2M472.2 326.4V327.3M473.2 326.0V327.5M474.2 325.9V327.9M475.2 326.1V327.4M476.2 325.7V327.9M477.2 326.4V327.3M478.2 325.9V327.8M479.2 325.7V327.7M480.2 325.6V327.8M481.2 325.3V328.5M482.2 325.4V328.4M483.2 325.5V328.2M484.2 325.7V327.8M485.2 326.1V327.6M486.2 326.2V327.6M487.2 321.1V332.1M488.2 325.4V328.2M489.2 325.5V328.1M490.2 326.0V327.6M491.2 326.2V327.4M492.2 326.3V327.2M493.2 325.5V328.0M494.2 311.5V339.9M495.2 326.4V327.2M496.2 326.2V327.4M497.2 326.0V327.6M498.2 325.9V327.6M499.2 326.3V327.3M500.2 326.1V327.6M501.2 314.4V338.6M502.2 326.1V327.4M503.2 325.9V327.7M504.2 326.0V327.7M505.2 326.0V327.7M506.2 325.7V327.9M507.2 326.4V327.2M508.2 326.3V327.4M509.2 325.4V328.0M510.2 326.3V327.2M511.2 325.8V327.7M512.2 325.7V327.9M513.2 325.7V327.9M514.2 326.1V327.7M515.2 325.7V327.7M516.2 325.5V328.1M517.2 325.9V327.6M518.2 326.3V327.3M519.2 325.4V328.5M520.2 325.4V328.4M521.2 320.4V334.4M522.2 325.8V327.9M523.2 326.0V327.5M524.2 326.2V327.3M525.2 325.8V327.9M526.2 325.8V327.7M527.2 326.2V327.4M528.2 326.1V327.4M529.2 325.9V327.8M530.2 326.3V327.3M531.2 326.2V327.4M532.2 320.9V333.2M533.2 326.4V327.2M534.2 326.0V327.6M535.2 325.9V327.5M536.2 325.8V327.7M537.2 326.3V327.4M538.2 326.0V327.6M539.2 326.3V327.2M540.2 326.3V327.3M541.2 321.6V331.3M542.2 325.8V328.0M543.2 325.9V327.5M544.2 325.9V327.8M545.2 312.6V340.8M546.2 326.0V327.5M547.2 326.2V327.4M548.2 325.7V328.0M549.2 325.4V328.1M550.2 326.0V327.7M551.2 325.6V328.1M552.2 325.4V328.5M553.2 326.1V327.6M554.2 325.5V328.3M555.2 326.0V327.7M556.2 325.9V327.9M557.2 321.7V331.9M558.2 325.5V327.9M559.2 326.2V327.3M560.2 325.7V327.9M561.2 325.8V327.9M562.2 325.9V327.7M563.2 325.7V327.8M564.2 325.4V328.4M565.2 326.1V327.4M566.2 325.9V327.9M567.2 326.3V327.4M568.2 325.9V327.8M569.2 326.1V327.5M570.2 326.0V327.6M571.2 326.0V327.5M572.2 325.9V327.8M573.2 325.7V327.9M574.2 311.2V341.1M575.2 325.3V328.1M576.2 326.3V327.3M577.2 325.9V327.6M578.2 325.9V327.6M579.2 325.4V328.2M580.2 325.8V327.7M581.2 325.7V327.7M582.2 326.1V327.5M583.2 325.4V328.3M584.2 326.3V327.4M585.2 326.4V327.2M586.2 325.9V327.8M587.2 325.6V328.1M588.2 325.8V327.8M589.2 325.9V327.8M590.2 325.5V327.9M591.2 325.5V328.4M592.2 325.4V328.0M593.2 326.3V327.2M594.2 326.3V327.3M595.2 320.4V332.8M596.2 325.9V327.6M597.2 325.9V327.9M598.2 326.3V327.4M599.2 325.8V327.8M600.2 326.1V327.4M601.2 325.8V327.8M602.2 325.8V327.9M603.2 325.5V328.1M604.2 326.2V327.4M605.2 325.6V328.0M606.2 326.1V327.5M607.2 314.8V339.0M608.2 326.1V327.5M609.2 325.6V327.8M610.2 326.2V327.4M611.2 326.3V327.3M612.2 326.1V327.6M613.2 326.2V327.4M614.2 311.5V342.9M615.2 325.9V327.7M616.2 326.2V327.6M617.2 326.4V327.2M618.2 326.1V327.5M619.2 325.4V327.9M620.2 326.2V327.5M621.2 325.9V327.8M622.2 325.3V328.6M623.2 325.6V328.1M624.2 325.9V327.7M625.2 326.2V327.5M626.2 325.7V328.0M627.2 325.8V327.9M628.2 316.9V338.5M629.2 325.9V327.5M630.2 325.5V327.8M631.2 325.5V328.2M632.2 325.4V328.1M633.2 325.4V328.3M634.2 326.4V327.1M635.2 326.4V327.3M636.2 325.4V328.4M637.2 325.6V327.9M638.2 326.4V327.2M639.2 325.8V327.9M640.2 326.3V327.2M641.2 325.8V327.6M642.2 325.9V327.5M643.2 316.9V335.3M644.2 326.3V327.3M645.2 326.1V327.5M646.2 325.8V327.8M647.2 326.2V327.5M648.2 326.0V327.5M649.2 325.4V328.3M650.2 325.3V328.4M651.2 325.5V327.9M652.2 325.6V328.2M653.2 326.4V327.2M654.2 325.8V327.8M655.2 325.9V327.8M656.2 326.2V327.4M657.2 326.4V327.3M658.2 326.3V327.2" stroke="#EDB120"/>
<path d="M52.2 326.8H658.2" stroke="#EDB120" stroke-width="3.9"/>
</g>
<rect x="391.5" y="40.2" width="253.5" height="254.9" fill="#fff" stroke="#6e6e6e" stroke-width="1.25"/>
<path d="M395.8 54.5H441.9" stroke="#0072BD" stroke-width="3" fill="none"/>
<text x="444.7" y="61.7" class="lg">ros2-rt-1Kbyte-25Hz</text>
<path d="M395.8 79.6H441.9" stroke="#D95319" stroke-width="3" fill="none"/>
<text x="444.7" y="86.9" class="lg">ros2-rt-1Kbyte-50Hz</text>
<path d="M395.8 104.8H441.9" stroke="#EDB120" stroke-width="3" fill="none"/>
<text x="444.7" y="112.0" class="lg">ros2-rt-1Kbyte-100Hz</text>
<path d="M395.8 130.0H441.9" stroke="#7E2F8E" stroke-width="3" fill="none"/>
<text x="444.7" y="137.2" class="lg">ros2-rt-1Kbyte-200Hz</text>
<path d="M395.8 155.1H441.9" stroke="#77AC30" stroke-width="3" fill="none"/>
<text x="444.7" y="162.4" class="lg">ros2-rt-1Kbyte-500Hz</text>
<path d="M395.8 180.3H441.9" stroke="#4DBEEE" stroke-width="3" fill="none"/>
<text x="444.7" y="187.6" class="lg">ros2-rt-1Kbyte-1000Hz</text>
<path d="M395.8 205.5H441.9" stroke="#A2142F" stroke-width="3" fill="none"/>
<text x="444.7" y="212.7" class="lg">ros2-rt-1Kbyte-2000Hz</text>
<path d="M395.8 230.6H441.9" stroke="#0072BD" stroke-width="3" fill="none"/>
<text x="444.7" y="237.9" class="lg">ros2-rt-1Kbyte-3000Hz</text>
<path d="M395.8 255.8H441.9" stroke="#D95319" stroke-width="3" fill="none"/>
<text x="444.7" y="263.1" class="lg">ros2-rt-1Kbyte-4000Hz</text>
<path d="M395.8 281.0H441.9" stroke="#EDB120" stroke-width="3" fill="none"/>
<text x="444.7" y="288.2" class="lg">ros2-rt-1Kbyte-5000Hz</text>
<text x="51.7" y="654" class="tk" text-anchor="middle">0</text>
<text x="172.9" y="654" class="tk" text-anchor="middle">2000</text>
<text x="294.1" y="654" class="tk" text-anchor="middle">4000</text>
<text x="415.3" y="654" class="tk" text-anchor="middle">6000</text>
<text x="536.5" y="654" class="tk" text-anchor="middle">8000</text>
<text x="657.7" y="654" class="tk" text-anchor="middle">10000</text>
<text x="44.1" y="35.1" class="tk" text-anchor="end">6</text>
<text x="44.1" y="135.0" class="tk" text-anchor="end">4</text>
<text x="44.1" y="234.8" class="tk" text-anchor="end">2</text>
<text x="44.1" y="334.6" class="tk" text-anchor="end">0</text>
<text x="44.1" y="434.4" class="tk" text-anchor="end">-2</text>
<text x="44.1" y="534.2" class="tk" text-anchor="end">-4</text>
<text x="44.1" y="634.0" class="tk" text-anchor="end">-6</text>
<text x="355.3" y="680.4" class="lb" text-anchor="middle">Number of Executions</text>
<text transform="translate(17.8,326.3) rotate(-90)" class="lb" style="font-size:23.35px" text-anchor="middle">Cycle Jitter(s)</text>
<path d="M54.8 12.8L65.4 23.2M65.4 12.8L54.8 23.2" stroke="#1a1a1a" stroke-width="1.25" fill="none"/>
<text x="68.5" y="23.5" class="tk">10</text>
<text x="89.3" y="13.0" class="tk" style="font-size:17px">-5</text>
</svg>
</body></html>
